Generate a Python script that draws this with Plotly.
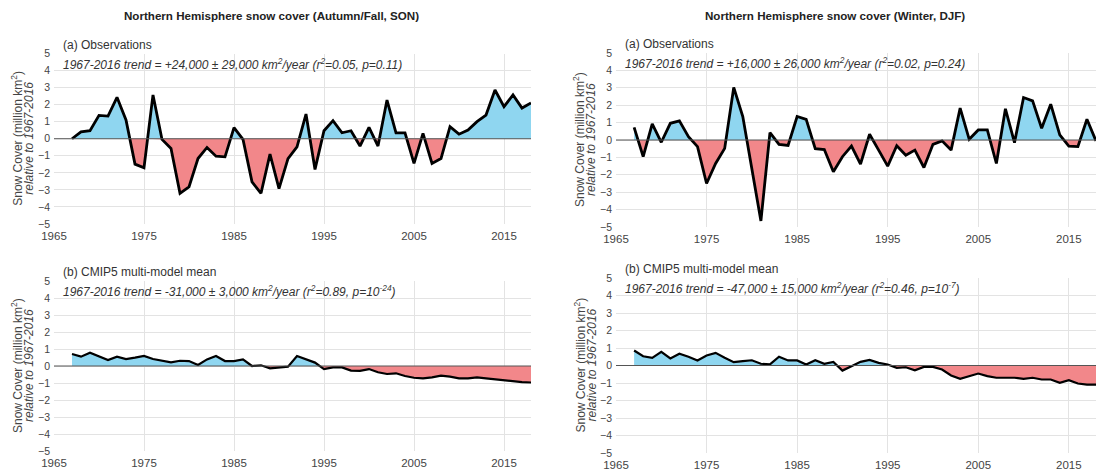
import plotly.graph_objects as go

years = list(range(1967, 2019))

son_obs = [0.0, 0.4, 0.47, 1.37, 1.33, 2.43, 1.1, -1.49, -1.7, 2.57,
           -0.04, -0.57, -3.2, -2.82, -1.16, -0.51, -1.02, -1.06, 0.65, -0.04,
           -2.53, -3.2, -0.9, -2.92, -1.16, -0.47, 1.45, -1.8, 0.47, 1.06,
           0.35, 0.47, -0.43, 0.67, -0.43, 2.27, 0.35, 0.35, -1.45, 0.31,
           -1.45, -1.16, 0.71, 0.27, 0.51, 1.0, 1.39, 2.86, 1.88, 2.57,
           1.8, 2.1]

djf_obs = [0.73, -0.96, 0.92, -0.13, 0.96, 1.1, 0.19, -0.38, -2.5, -1.35,
           -0.48, 3.02, 1.35, -1.6, -4.65, 0.42, -0.25, -0.31, 1.35, 1.19,
           -0.5, -0.55, -1.83, -0.96, -0.35, -1.38, 0.33, -0.58, -1.5, -0.33,
           -0.87, -0.58, -1.58, -0.25, -0.05, -0.58, 1.83, 0.04, 0.58, 0.58,
           -1.35, 1.79, -0.15, 2.44, 2.25, 0.67, 2.06, 0.29, -0.35, -0.38,
           1.19, -0.05]

son_cmip = [0.71, 0.55, 0.78, 0.55, 0.35, 0.55, 0.41, 0.49, 0.59, 0.41,
            0.31, 0.22, 0.31, 0.29, 0.06, 0.39, 0.59, 0.29, 0.29, 0.39,
            0.0, 0.04, -0.14, -0.08, -0.04, 0.59, 0.39, 0.2, -0.18, -0.08,
            -0.08, -0.27, -0.29, -0.18, -0.37, -0.47, -0.43, -0.59, -0.69, -0.73,
            -0.67, -0.57, -0.63, -0.73, -0.73, -0.67, -0.73, -0.78, -0.86, -0.92,
            -0.95, -0.97]

djf_cmip = [0.86, 0.53, 0.44, 0.78, 0.4, 0.67, 0.5, 0.29, 0.57, 0.72,
            0.44, 0.19, 0.25, 0.3, 0.1, 0.06, 0.5, 0.29, 0.29, 0.06,
            0.3, 0.1, 0.2, -0.29, -0.04, 0.21, 0.32, 0.15, 0.06, -0.13,
            -0.1, -0.27, -0.08, -0.08, -0.23, -0.57, -0.76, -0.61, -0.46, -0.61,
            -0.7, -0.7, -0.7, -0.76, -0.7, -0.8, -0.8, -0.99, -0.84, -1.03,
            -1.09, -1.09]

col_titles = ["Northern Hemisphere snow cover (Autumn/Fall, SON)",
              "Northern Hemisphere snow cover (Winter, DJF)"]
row_labels = ["(a) Observations", "(b) CMIP5 multi-model mean"]
trend_texts = [
    "1967-2016 trend = +24,000 ± 29,000 km<sup>2</sup>/year (r<sup>2</sup>=0.05, p=0.11)",
    "1967-2016 trend = +16,000 ± 26,000 km<sup>2</sup>/year (r<sup>2</sup>=0.02, p=0.24)",
    "1967-2016 trend = -31,000 ± 3,000 km<sup>2</sup>/year (r<sup>2</sup>=0.89, p=10<sup>-24</sup>)",
    "1967-2016 trend = -47,000 ± 15,000 km<sup>2</sup>/year (r<sup>2</sup>=0.46, p=10<sup>-7</sup>)",
]
ytitle_line1 = "Snow Cover (million km<sup>2</sup>)"
ytitle_line2 = "<i>relative to 1967-2016</i>"
xtick_vals = [1965, 1975, 1985, 1995, 2005, 2015]
ytick_vals = list(range(-5, 6))

BLUE = "#8fd6f0"
RED = "#f2878a"
FONT = "Arial, Liberation Sans, sans-serif"
W, H = 1097, 472


def px_x(px):
    return px / W


def px_y(py):
    return 1 - py / H


def split_at_zero(xs, ys):
    """Insert zero-crossing points so positive/negative fills meet exactly."""
    ox, oy = [xs[0]], [ys[0]]
    for i in range(1, len(xs)):
        y0, y1 = ys[i - 1], ys[i]
        if (y0 > 0 and y1 < 0) or (y0 < 0 and y1 > 0):
            t = y0 / (y0 - y1)
            ox.append(xs[i - 1] + t * (xs[i] - xs[i - 1]))
            oy.append(0.0)
        ox.append(xs[i])
        oy.append(y1)
    return ox, oy


# panels: (series, x-pixel range, y-pixel range top..bottom, line width)
panels = [
    (son_obs, (54, 531), (53.5, 224), 2.8),
    (djf_obs, (616, 1096), (53, 227), 2.8),
    (son_cmip, (54, 531), (281, 451), 2.2),
    (djf_cmip, (616, 1096), (278, 453), 2.2),
]

fig = go.Figure()
layout = dict(
    template="none",
    width=W, height=H, margin=dict(l=0, r=0, t=0, b=0, pad=0, autoexpand=False),
    paper_bgcolor="white", plot_bgcolor="white", showlegend=False,
    font=dict(family=FONT, color="#444"),
)
annotations = []
shapes = []

for k, (ys, (px0, px1), (py0, py1), lw) in enumerate(panels):
    n = k + 1
    xa = "x" if n == 1 else f"x{n}"
    ya = "y" if n == 1 else f"y{n}"
    xs_, ys_ = split_at_zero(years, ys)
    pos = [max(v, 0) for v in ys_]
    neg = [min(v, 0) for v in ys_]
    fig.add_trace(go.Scatter(x=xs_, y=pos, mode="lines", fill="tozeroy",
                             fillcolor=BLUE, line=dict(width=0),
                             xaxis=xa, yaxis=ya, hoverinfo="skip"))
    fig.add_trace(go.Scatter(x=xs_, y=neg, mode="lines", fill="tozeroy",
                             fillcolor=RED, line=dict(width=0),
                             xaxis=xa, yaxis=ya, hoverinfo="skip"))
    fig.add_trace(go.Scatter(x=years, y=ys, mode="lines",
                             line=dict(color="black", width=lw),
                             xaxis=xa, yaxis=ya))

    xdom = [px_x(px0), px_x(px1)]
    ydom = [px_y(py1), px_y(py0)]
    kx = "xaxis" if n == 1 else f"xaxis{n}"
    ky = "yaxis" if n == 1 else f"yaxis{n}"
    layout[kx] = dict(domain=xdom, anchor=ya, range=[1965, 2018],
                      tickvals=xtick_vals, showgrid=True, gridcolor="#e3e3e3",
                      gridwidth=1, zeroline=False, showline=False, ticks="",
                      automargin=False, ticklabelstandoff=3,
                      tickfont=dict(size=11.5, color="#444"))
    layout[ky] = dict(domain=ydom, anchor=xa, range=[-5, 5],
                      tickvals=ytick_vals, showgrid=True, gridcolor="#e3e3e3",
                      gridwidth=1, zeroline=False, showline=False, ticks="",
                      automargin=False, ticklabelstandoff=3,
                      tickfont=dict(size=10.5, color="#444"))

    # zero reference line above fills
    shapes.append(dict(type="line", xref=f"{xa} domain", yref=ya,
                       x0=0, x1=1, y0=0, y1=0, layer="above",
                       line=dict(color="#555555", width=1)))

    row = k // 2
    annotations.append(dict(text=row_labels[row], xref="paper", yref="paper",
                            x=px_x(px0 + 7), y=px_y(py0 - 9),
                            xanchor="left", yanchor="middle", showarrow=False,
                            font=dict(size=12, color="#333")))
    annotations.append(dict(text="<i>" + trend_texts[k] + "</i>",
                            xref="paper", yref="paper",
                            x=px_x(px0 + 7), y=px_y(py0 + 10),
                            xanchor="left", yanchor="middle", showarrow=False,
                            font=dict(size=12, color="#333")))
    for dx, txt in ((-37, ytitle_line1), (-25, ytitle_line2)):
        annotations.append(dict(text=txt, xref="paper", yref="paper",
                                x=px_x(px0 + dx), y=px_y((py0 + py1) / 2),
                                xanchor="center", yanchor="middle",
                                showarrow=False, textangle=-90,
                                font=dict(size=12, color="#444")))

for j, t in enumerate(col_titles):
    annotations.append(dict(text="<b>" + t + "</b>", xref="paper", yref="paper",
                            x=px_x([271, 835][j]), y=px_y(15),
                            xanchor="center", yanchor="middle", showarrow=False,
                            font=dict(size=11.6, color="#222")))

layout["annotations"] = annotations
layout["shapes"] = shapes
fig.update_layout(**layout)
fig.write_html(
    "out.html",
    config={"displayModeBar": False},
    post_script="document.body.style.margin='0';document.body.style.overflow='hidden';",
)
